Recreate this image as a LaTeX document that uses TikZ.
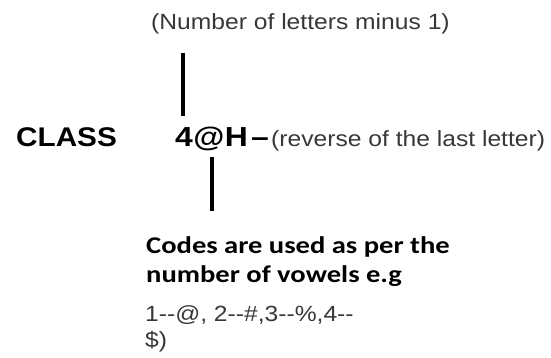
\documentclass[tikz,border=0pt]{standalone}
\usepackage{fontspec}
\usetikzlibrary{positioning}
\newfontfamily\arialish[FakeStretch=1.12]{Liberation Sans}
\newfontfamily\arialbold[FakeStretch=1.1]{Liberation Sans Bold}
\newfontfamily\arialwide[FakeStretch=1.16]{Liberation Sans Bold}
\newfontfamily\calibrish[FakeStretch=1.19]{Carlito Bold}
\definecolor{ink}{HTML}{000000}
\definecolor{inksoft}{HTML}{383838}

\begin{document}
\begin{tikzpicture}[
  x=1pt, y=-1pt,
  note/.style={anchor=base west, inner sep=0pt, text=inksoft, font=\arialish\fontsize{22}{26}\selectfont},
  word/.style={anchor=base west, inner sep=0pt, text=ink, font=\arialbold\fontsize{27}{30}\selectfont},
  code/.style={word, font=\arialwide\fontsize{27.5}{30}\selectfont},
  rule/.style={anchor=base west, inner sep=0pt, align=left, text=ink, font=\calibrish\fontsize{24}{29}\selectfont},
  stem/.style={draw=ink, line width=3.5pt}
]
\useasboundingbox (0,0) rectangle (551,358);

\node[note] (minus) at (151,30) {(Number of letters minus 1)};
\node[word] (class) at (16,147) {CLASS};
\node[code] (four) at (175,147) {4};
\node[code] (atsign) at (four.base east) {@};
\node[code] (aitch) at (atsign.base east) {H};
\node[note] (reverse) at (271,147) {(reverse of the last letter)};
\node[code, anchor=base east] (dash) at ([xshift=-2pt]reverse.base west) {–};
\node[rule] (codes) at (146,282) {Codes are used as per the\\number of vowels e.g};
\node[note, align=left] (vowels) at (145,347) {1-{}-@, 2-{}-\#,3-{}-\%,4-{}-\\\$)};

\draw[stem] ([xshift=-1pt,yshift=-18pt]minus.south -| four) -- ([xshift=-1pt,yshift=12pt]four.north);
\draw[stem] ([xshift=3pt,yshift=-5pt]atsign.south) -- ([xshift=3pt,yshift=25pt]codes.north -| atsign);
\end{tikzpicture}
\end{document}
